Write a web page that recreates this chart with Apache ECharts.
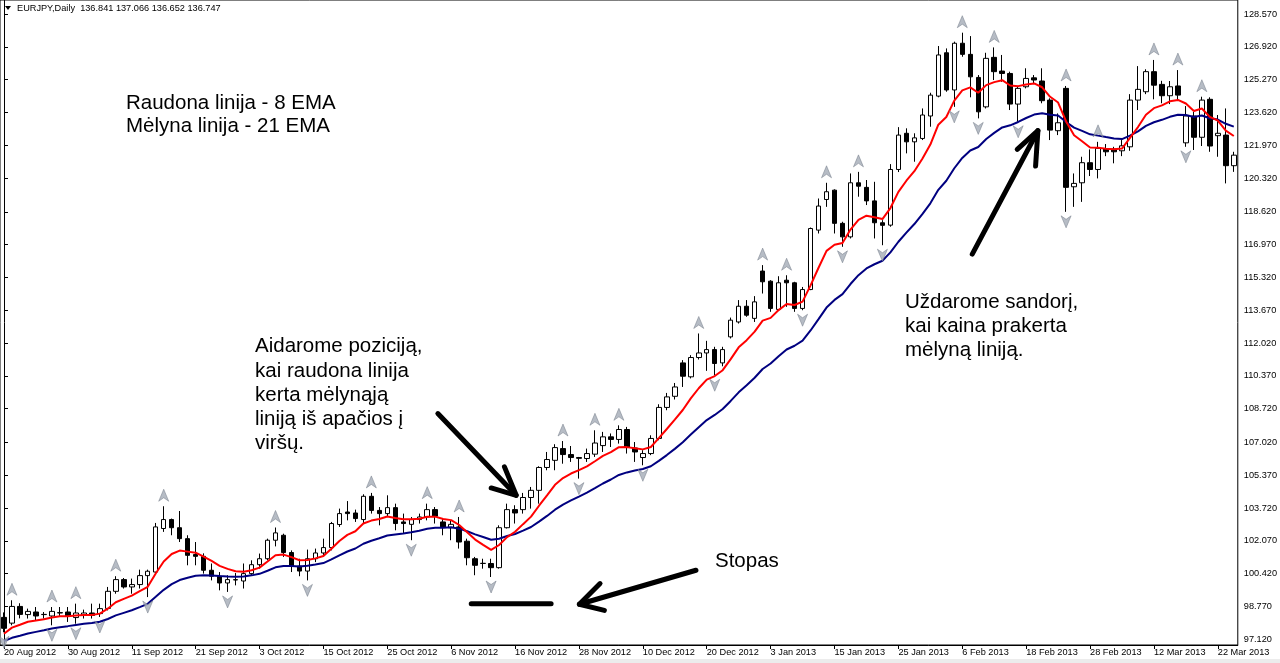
<!DOCTYPE html>
<html><head><meta charset="utf-8">
<script src="https://cdn.jsdelivr.net/npm/echarts@6/dist/echarts.min.js"></script>
<style>html,body{margin:0;padding:0;background:#fff}#c{width:1280px;height:663px}</style>
</head><body><div id="c"></div><script>
const dates = [
'20 Aug 2012','21 Aug 2012','22 Aug 2012','23 Aug 2012','24 Aug 2012','27 Aug 2012','28 Aug 2012','29 Aug 2012','30 Aug 2012','31 Aug 2012',
'3 Sep 2012','4 Sep 2012','5 Sep 2012','6 Sep 2012','7 Sep 2012','10 Sep 2012','11 Sep 2012','12 Sep 2012','13 Sep 2012','14 Sep 2012',
'17 Sep 2012','18 Sep 2012','19 Sep 2012','20 Sep 2012','21 Sep 2012','24 Sep 2012','25 Sep 2012','26 Sep 2012','27 Sep 2012','28 Sep 2012',
'1 Oct 2012','2 Oct 2012','3 Oct 2012','4 Oct 2012','5 Oct 2012','8 Oct 2012','9 Oct 2012','10 Oct 2012','11 Oct 2012','12 Oct 2012',
'15 Oct 2012','16 Oct 2012','17 Oct 2012','18 Oct 2012','19 Oct 2012','22 Oct 2012','23 Oct 2012','24 Oct 2012','25 Oct 2012','26 Oct 2012',
'29 Oct 2012','30 Oct 2012','31 Oct 2012','1 Nov 2012','2 Nov 2012','5 Nov 2012','6 Nov 2012','7 Nov 2012','8 Nov 2012','9 Nov 2012',
'12 Nov 2012','13 Nov 2012','14 Nov 2012','15 Nov 2012','16 Nov 2012','19 Nov 2012','20 Nov 2012','21 Nov 2012','22 Nov 2012','23 Nov 2012',
'26 Nov 2012','27 Nov 2012','28 Nov 2012','29 Nov 2012','30 Nov 2012','3 Dec 2012','4 Dec 2012','5 Dec 2012','6 Dec 2012','7 Dec 2012',
'10 Dec 2012','11 Dec 2012','12 Dec 2012','13 Dec 2012','14 Dec 2012','17 Dec 2012','18 Dec 2012','19 Dec 2012','20 Dec 2012','21 Dec 2012',
'24 Dec 2012','26 Dec 2012','27 Dec 2012','28 Dec 2012','31 Dec 2012','2 Jan 2013','3 Jan 2013','4 Jan 2013','7 Jan 2013','8 Jan 2013',
'9 Jan 2013','10 Jan 2013','11 Jan 2013','14 Jan 2013','15 Jan 2013','16 Jan 2013','17 Jan 2013','18 Jan 2013','21 Jan 2013','22 Jan 2013',
'23 Jan 2013','24 Jan 2013','25 Jan 2013','28 Jan 2013','29 Jan 2013','30 Jan 2013','31 Jan 2013','1 Feb 2013','4 Feb 2013','5 Feb 2013',
'6 Feb 2013','7 Feb 2013','8 Feb 2013','11 Feb 2013','12 Feb 2013','13 Feb 2013','14 Feb 2013','15 Feb 2013','18 Feb 2013','19 Feb 2013',
'20 Feb 2013','21 Feb 2013','22 Feb 2013','25 Feb 2013','26 Feb 2013','27 Feb 2013','28 Feb 2013','1 Mar 2013','4 Mar 2013','5 Mar 2013',
'6 Mar 2013','7 Mar 2013','8 Mar 2013','11 Mar 2013','12 Mar 2013','13 Mar 2013','14 Mar 2013','15 Mar 2013','18 Mar 2013','19 Mar 2013',
'20 Mar 2013','21 Mar 2013','22 Mar 2013','25 Mar 2013','26 Mar 2013'];

const opens = [98.22,97.93,98.77,98.36,98.49,98.37,98.29,98.44,98.49,98.21,
98.32,98.44,98.41,98.67,99.53,100.12,99.75,99.87,100.32,100.50,
102.69,103.14,102.73,102.18,101.38,101.29,100.59,100.29,99.95,100.10,
100.05,100.42,100.87,101.17,102.10,102.35,101.48,100.80,100.55,101.17,
101.46,101.73,102.89,103.52,103.47,103.14,104.31,103.60,103.44,103.74,
103.02,102.90,103.14,103.27,103.64,103.02,102.73,102.77,102.05,101.17,
100.93,100.93,100.72,102.73,103.64,103.64,104.25,104.61,105.76,106.12,
106.71,106.41,106.26,106.21,106.43,106.86,107.30,107.17,107.67,106.74,
106.26,106.46,107.22,108.78,109.34,111.02,110.32,111.29,111.52,111.69,
111.02,112.33,113.08,113.87,113.26,115.64,115.13,113.71,115.18,115.05,
113.76,114.71,117.70,119.24,119.71,118.04,117.36,120.08,119.85,119.17,
118.07,117.95,120.75,122.57,122.14,122.31,123.44,124.44,126.62,124.75,
127.10,126.54,125.38,123.90,126.39,125.70,125.58,124.04,124.91,125.36,
125.20,124.24,122.70,124.83,119.88,120.08,121.09,120.75,121.78,121.78,
121.69,121.89,124.24,124.66,125.67,125.03,124.46,124.95,122.09,123.44,
122.37,124.28,122.45,122.48,120.94];

const closes = [97.67,98.77,98.37,98.52,98.29,98.36,98.52,98.46,98.29,98.44,
98.44,98.32,98.66,99.53,100.12,99.75,99.87,100.32,100.54,102.77,
103.14,102.73,102.18,101.34,101.29,100.59,100.29,99.95,100.12,100.12,
100.42,100.87,101.17,102.10,102.47,101.48,100.80,100.55,101.17,101.46,
101.73,102.94,103.44,103.44,103.19,104.31,103.60,103.44,103.74,102.94,
102.94,103.14,103.27,103.64,103.31,102.77,102.90,102.01,101.22,100.84,
100.94,100.72,102.73,103.64,103.47,104.25,104.61,105.76,106.16,106.76,
106.41,106.26,106.22,106.46,106.99,107.30,107.17,107.67,106.79,106.54,
106.46,107.22,108.78,109.31,109.81,110.35,111.29,111.52,111.69,110.99,
111.69,113.17,113.87,113.42,114.09,115.10,113.76,115.05,115.05,113.76,
114.71,117.78,118.91,119.63,118.04,117.36,120.08,119.91,119.17,118.07,
117.94,120.75,122.48,122.14,122.34,123.49,124.49,126.51,124.75,127.10,
126.54,125.41,123.65,126.34,125.67,125.58,124.04,124.83,125.33,125.25,
124.21,122.73,123.10,119.85,120.05,121.09,120.75,121.81,121.64,121.64,
121.94,124.24,124.78,125.67,124.99,124.46,124.91,124.49,123.44,122.37,
124.24,121.93,122.57,120.94,121.47];

const lows = [97.47,97.82,98.17,98.16,98.07,98.16,97.82,98.24,97.99,97.90,
98.16,98.16,98.24,98.57,99.41,99.67,99.41,99.67,99.24,100.42,
102.52,102.35,102.01,100.84,100.84,100.42,100.08,99.58,99.50,99.83,
99.67,100.34,100.67,101.09,101.79,101.26,100.50,100.29,100.08,101.00,
101.34,101.59,102.77,103.10,103.02,102.94,103.44,102.85,103.27,102.60,
102.43,102.10,102.94,103.10,102.94,102.35,102.10,101.68,100.84,100.34,
100.67,100.25,100.67,102.69,102.94,103.44,103.69,103.94,105.62,105.62,
105.95,106.04,105.20,106.04,106.29,106.54,106.79,106.96,106.46,106.04,
105.87,106.38,107.13,108.64,109.18,109.81,110.24,111.19,110.62,110.40,
110.85,112.25,113.00,113.34,113.08,114.51,113.59,113.64,113.84,113.59,
113.67,114.68,117.53,118.87,117.53,116.86,117.28,119.38,118.96,117.28,
116.94,117.87,120.62,121.56,121.14,122.23,122.90,124.38,124.66,123.90,
126.42,124.38,123.32,123.82,125.25,125.16,123.74,123.15,124.83,125.08,
124.08,122.23,122.48,118.62,118.87,119.12,120.42,120.30,121.42,121.06,
121.42,121.69,123.74,124.54,124.28,124.08,124.04,124.24,121.89,121.73,
121.93,121.64,121.39,120.05,120.63];

const highs = [98.47,99.08,98.93,98.66,98.74,98.49,98.74,98.74,98.74,98.91,
98.61,98.91,98.91,99.75,100.29,100.20,100.17,100.62,100.62,102.97,
103.81,103.19,103.57,102.35,102.01,101.44,100.93,100.50,100.34,100.45,
100.93,101.09,101.43,102.18,102.74,102.43,101.59,101.17,101.63,101.68,
102.18,103.02,103.69,104.07,103.64,104.41,104.48,103.77,104.36,103.94,
103.44,103.27,103.44,103.94,103.77,103.19,103.10,103.27,102.18,101.26,
101.17,101.17,102.85,103.94,103.86,104.48,104.78,105.82,106.54,106.93,
107.09,106.84,106.29,106.71,107.63,107.55,107.47,107.88,107.80,107.04,
106.63,107.38,108.94,109.51,110.01,111.16,111.41,112.50,112.13,111.83,
111.83,113.30,114.18,114.18,114.38,115.94,115.18,115.38,115.43,115.10,
114.84,117.83,119.29,120.08,119.75,118.12,120.55,120.63,120.22,120.13,
118.20,121.02,122.88,122.82,122.57,123.82,124.61,126.96,126.84,127.18,
127.63,127.46,125.50,126.62,126.89,126.51,125.67,124.95,125.84,125.50,
125.84,124.33,123.57,124.95,120.55,121.39,121.76,122.14,122.03,121.89,
122.23,124.54,125.95,125.79,126.26,125.21,125.20,125.75,123.94,123.65,
124.41,124.38,123.49,123.82,121.64];

const priceTicks = [128.570,126.920,125.270,123.620,121.970,120.320,118.620,116.970,115.320,113.670,
112.020,110.370,108.720,107.020,105.370,103.720,102.070,100.420,98.770,97.120];

const fractalUpIdx = [1,6,9,14,20,34,46,53,57,70,74,77,87,95,98,103,107,120,124,133,137,144,147,150];
const fractalDownIdx = [0,6,9,12,18,28,38,51,61,72,80,89,100,105,110,119,122,127,133,148];

const emaSeedFast = 97.32;
const emaSeedSlow = 96.97;

// annotation arrows in data coordinates [bar position, price]
const entryShaft = [[54.33,108.47],[64.14,104.36]];
const entryHead  = [[61.01,104.73],[64.14,104.36],[62.67,105.79]];
const stopShaft  = [[86.65,100.59],[72.05,98.88]];
const stopHead   = [[74.64,99.92],[72.05,98.88],[75.18,98.57]];
const stopLevel  = [[58.51,98.91],[68.51,98.91]];
const exitShaft  = [[121.25,116.49],[129.47,122.70]];
const exitHead   = [[126.88,121.76],[129.47,122.70],[129.18,120.92]];

const titleText = 'EURJPY,Daily  136.841 137.066 136.652 136.747';
const notes = [
  ['Raudona linija - 8 EMA',126,103.2],
  ['Mėlyna linija - 21 EMA',126,126.4],
  ['Aidarome poziciją,',255,346.8],
  ['kai raudona linija',255,371.2],
  ['kerta mėlynąją',255,395.5],
  ['liniją iš apačios į',255,419.6],
  ['viršų.',255,443.8],
  ['Uždarome sandorį,',905,302.5],
  ['kai kaina prakerta',905,326.4],
  ['mėlyną liniją.',905,350.3],
  ['Stopas',715,561.8]
];

function ema(src, period, seed){
  const k = 2/(period+1); let prev = seed;
  return src.map(v => { prev = prev + k*(v-prev); return +prev.toFixed(3); });
}
const emaFast = ema(closes, 8, emaSeedFast);
const emaSlow = ema(closes, 21, emaSeedSlow);

const candles = opens.map((o,i) => [o, closes[i], lows[i], highs[i]]);
const upPts = fractalUpIdx.map(i => [i, highs[i]]);
const downPts = fractalDownIdx.map(i => [i, lows[i]]);

const chart = echarts.init(document.getElementById('c'));
const FONT = '"Liberation Sans", Arial, sans-serif';
const arrowStyle = {color:'#000', width:5, cap:'round', join:'round', opacity:1};

const graphics = [
  {type:'rect', shape:{x:0,y:659,width:1280,height:4}, style:{fill:'#ececec'}, silent:true},
  {type:'polygon', shape:{points:[[5,6],[11,6],[8,10]]}, style:{fill:'#000'}},
  {type:'text', x:17, y:8.5, style:{text:titleText, font:'9.2px '+FONT, fill:'#000', verticalAlign:'middle'}}
].concat(notes.map(n => ({type:'text', x:n[1], y:n[2], z:100,
   style:{text:n[0], font:'20.5px '+FONT, fill:'#000', verticalAlign:'middle', align:'left'}})));

chart.setOption({
  animation:false,
  backgroundColor:'#fff',
  grid:{left:0, right:41, top:0, bottom:18, show:true, borderColor:'#000', borderWidth:1, backgroundColor:'#fff'},
  xAxis:[{
    type:'category', data:dates, boundaryGap:true,
    axisLine:{show:true, lineStyle:{color:'#000', width:1}},
    axisTick:{show:true, alignWithLabel:true, interval:7, length:4, lineStyle:{color:'#000'}},
    axisLabel:{interval:7, align:'left', margin:3, color:'#000', fontSize:9.2, fontFamily:FONT},
    splitLine:{show:false}
  },{
    type:'value', min:-0.5, max:154.5, show:false
  }],
  yAxis:{
    type:'value', position:'right', min:96.83, max:129.275, scale:true,
    axisLine:{show:true, lineStyle:{color:'#000', width:1}},
    axisTick:{show:true, customValues:priceTicks, length:4, lineStyle:{color:'#000'}},
    axisLabel:{show:true, customValues:priceTicks, formatter:v => Number(v).toFixed(3), margin:6,
      color:'#000', fontSize:9.2, fontFamily:FONT, showMinLabel:true, showMaxLabel:true},
    splitLine:{show:false}
  },
  graphic:graphics,
  series:[
    {type:'candlestick', data:candles, barWidth:5, z:2,
     itemStyle:{color:'#fff', color0:'#000', borderColor:'#000', borderColor0:'#000', borderWidth:1}},
    {type:'line', data:emaSlow, symbol:'none', z:3, lineStyle:{color:'#000080', width:2}},
    {type:'line', data:emaFast, symbol:'none', z:4, lineStyle:{color:'#ff0000', width:2}},
    {type:'scatter', data:upPts, z:5, symbol:'path://M6,0L12,12L6,8.5L0,12Z', symbolSize:[10,12], symbolOffset:[0,-11],
     itemStyle:{color:'#a4abb6', borderColor:'#6f7784', borderWidth:0.6}},
    {type:'scatter', data:downPts, z:5, symbol:'path://M0,0L6,3.5L12,0L6,12Z', symbolSize:[10,12], symbolOffset:[0,10],
     itemStyle:{color:'#a4abb6', borderColor:'#6f7784', borderWidth:0.6}},
    {type:'lines', coordinateSystem:'cartesian2d', xAxisIndex:1, yAxisIndex:0, polyline:true, z:10,
     lineStyle:arrowStyle,
     data:[{coords:entryShaft},{coords:entryHead},{coords:stopShaft},{coords:stopHead},{coords:stopLevel},
           {coords:exitShaft},{coords:exitHead}]}
  ]
});
</script></body></html>
